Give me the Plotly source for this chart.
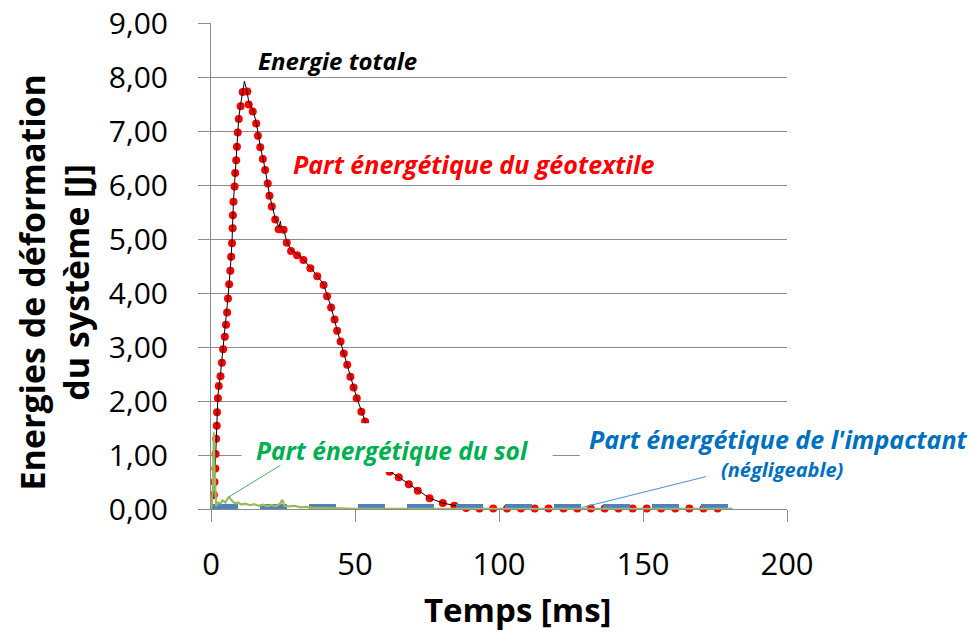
import plotly.graph_objects as go

# ---- data ----
geo_t = [1.0, 1.2, 1.5, 1.6, 1.8, 2.0, 2.1, 2.4, 2.7, 3.3, 3.8, 4.2, 4.8, 5.2, 5.6, 5.9, 6.3, 6.7,
         7.0, 7.3, 7.5, 7.6, 7.8, 8.2, 8.4, 8.75, 9.0, 9.3, 9.65, 10.3, 11.0, 12.6, 13.1, 14.5, 15.7,
         16.3, 17.1, 18.0, 18.8, 19.7, 20.3, 21.1, 22.3, 23.5, 25.2, 26.3, 27.8, 29.9, 32.1, 34.5,
         36.9, 39.1, 40.3, 41.7, 42.9, 43.8, 45.0, 46.1, 47.3, 48.4, 49.5, 50.6, 52.2, 53.5, 55.0,
         56.5, 58.0, 59.5, 61.0, 62.0, 65.2, 68.7, 71.8, 75.9, 80.5, 84.5, 88.6, 93.2, 98.0, 102.8,
         107.6, 112.4, 117.2, 122.4, 127.2, 131.9, 136.7, 141.5, 146.4, 151.3, 156.3, 161.2, 166.1,
         171.0, 175.9]
geo_e = [0.26, 0.5, 0.75, 1.02, 1.3, 1.54, 1.79, 2.05, 2.28, 2.46, 2.71, 2.96, 3.19, 3.41, 3.64,
         3.9, 4.16, 4.41, 4.67, 4.92, 5.2, 5.44, 5.69, 5.97, 6.22, 6.46, 6.71, 6.97, 7.22, 7.46, 7.72,
         7.73, 7.49, 7.36, 7.14, 6.91, 6.7, 6.48, 6.28, 6.03, 5.8, 5.6, 5.36, 5.18, 5.17, 4.93, 4.78,
         4.70, 4.61, 4.46, 4.31, 4.15, 3.94, 3.73, 3.51, 3.30, 3.10, 2.88, 2.67, 2.45, 2.25, 2.05,
         1.80, 1.62, 1.42, 1.22, 1.05, 0.92, 0.78, 0.69, 0.59, 0.46, 0.34, 0.20, 0.11, 0.06, 0.02,
         0.01, 0.01, 0.01, 0.01, 0.01, 0.01, 0.01, 0.01, 0.01, 0.01, 0.01, 0.01, 0.01, 0.01, 0.01,
         0.01, 0.01, 0.01]

tot_t = [0, 1.0, 1.5, 2.0, 2.4, 3.3, 4.2, 5.2, 5.9, 6.7, 7.3, 7.8, 8.4, 9.0, 9.65, 10.3, 11.0, 11.6,
         12.3, 13.1, 14.5, 15.7, 17.1, 18.8, 20.3, 22.3, 23.6, 24.1, 24.4, 25.5, 26.3, 27.8, 29.9,
         32.1, 34.5, 36.9, 39.1, 40.3, 41.7, 43.8, 46.1, 48.4, 50.6, 53.5, 56.5, 59.5, 62.0, 65.2,
         68.7, 71.8, 75.9, 80.5, 84.5, 88.6, 93.2, 100, 120, 150, 181]
tot_e = [0, 0.3, 0.8, 1.6, 2.1, 2.5, 3.0, 3.45, 3.92, 4.43, 4.95, 5.7, 6.25, 6.73, 7.25, 7.5, 7.78,
         7.92, 7.78, 7.55, 7.4, 7.16, 6.72, 6.3, 5.82, 5.38, 5.22, 5.33, 5.2, 5.12, 4.95, 4.8, 4.72,
         4.62, 4.47, 4.32, 4.16, 3.95, 3.74, 3.31, 2.89, 2.46, 2.06, 1.63, 1.23, 0.92, 0.7, 0.59,
         0.46, 0.34, 0.2, 0.11, 0.06, 0.02, 0.01, 0.01, 0.01, 0.01, 0.01]

imp_t = [0, 30, 60, 90, 120, 150, 181]
imp_e = [0.045, 0.045, 0.045, 0.045, 0.045, 0.045, 0.045]

sol_t = [0, 0.6, 1.0, 1.3, 1.8, 2.5, 3.2, 4.0, 5.0, 5.6, 6.3, 7.0, 7.5, 8.5, 9.5, 10.5, 12, 13.5,
         15, 16.5, 18, 19.5, 21, 22.5, 24, 24.8, 25.5, 27, 29, 31, 33, 35, 38, 41, 45, 50, 60, 80,
         100, 130, 160, 181]
sol_e = [0, 0.3, 1.42, 0.6, 0.05, 0.12, 0.1, 0.16, 0.12, 0.18, 0.22, 0.16, 0.14, 0.1, 0.12, 0.08,
         0.1, 0.07, 0.09, 0.06, 0.08, 0.05, 0.07, 0.05, 0.1, 0.17, 0.06, 0.05, 0.06, 0.03, 0.04,
         0.02, 0.02, 0.01, 0.01, 0.005, 0.005, 0.005, 0.005, 0.005, 0.005, 0.005]

x_ticks = [0, 50, 100, 150, 200]
y_ticks = [0, 1, 2, 3, 4, 5, 6, 7, 8, 9]

FONT = "Open Sans"
GRID = "#8c8c8c"

fig = go.Figure()
fig.add_trace(go.Scatter(x=geo_t, y=geo_e, mode="markers", cliponaxis=False,
                         marker=dict(color="#ff0000", size=8), name="géotextile"))
fig.add_trace(go.Scatter(x=tot_t, y=tot_e, mode="lines",
                         line=dict(color="#000000", width=1), name="totale"))
fig.add_trace(go.Scatter(x=imp_t, y=imp_e, mode="lines",
                         line=dict(color="#4F81BD", width=5, dash="27px,22px"), name="impactant"))
fig.add_trace(go.Scatter(x=sol_t, y=sol_e, mode="lines",
                         line=dict(color="#9BBB59", width=2.2), name="sol"))

shapes = [
    # white label boxes
    dict(type="rect", xref="x", yref="y", x0=10.6, x1=118.6, y0=0.685, y1=1.59,
         fillcolor="white", line=dict(width=0), layer="above"),
    dict(type="rect", xref="x", yref="y", x0=128, x1=200, y0=0.63, y1=1.6,
         fillcolor="white", line=dict(width=0), layer="above"),
    # connectors
    dict(type="line", xref="x", yref="y", x0=5.8, y0=0.21, x1=24.1, y1=0.81,
         line=dict(color="#4BAE66", width=1), layer="above"),
    dict(type="line", xref="x", yref="y", x0=129, y0=0.03, x1=171.9, y1=0.6,
         line=dict(color="#4A90D9", width=1), layer="above"),
]

annotations = [
    dict(text="<b><i>Energie totale</i></b>", x=43.9, y=8.31, xref="x", yref="y",
         showarrow=False, xanchor="center", font=dict(family=FONT, size=24, color="black")),
    dict(text="<b><i>Part énergétique du géotextile</i></b>", x=91.3, y=6.39, xref="x", yref="y",
         showarrow=False, xanchor="center", font=dict(family=FONT, size=25, color="#ff0000")),
    dict(text="<b><i>Part énergétique du sol</i></b>", x=62.7, y=1.09, xref="x", yref="y",
         showarrow=False, xanchor="center", font=dict(family=FONT, size=24.5, color="#00B050")),
    dict(text="<b><i>Part énergétique de l'impactant</i></b>", x=(778.5 - 211.5) / 576,
         y=(509 - 439) / 486, xref="paper", yref="paper", showarrow=False, xanchor="center",
         yanchor="middle", font=dict(family=FONT, size=25, color="#0070C0")),
    dict(text="<b><i>(négligeable)</i></b>", x=(783 - 211.5) / 576, y=(509 - 469) / 486,
         xref="paper", yref="paper", showarrow=False, xanchor="center", yanchor="middle",
         font=dict(family=FONT, size=20, color="#0070C0")),
    dict(text="<b>Energies de déformation<br>du système [J]</b>", textangle=-90,
         x=(54 - 211.5) / 576, y=(509 - 283) / 486, xref="paper", yref="paper",
         showarrow=False, xanchor="center", yanchor="middle",
         font=dict(family=FONT, size=34, color="black")),
    dict(text="<b>Temps [ms]</b>", x=(518 - 211.5) / 576, y=(509 - 609) / 486,
         xref="paper", yref="paper", showarrow=False, xanchor="center", yanchor="middle",
         font=dict(family=FONT, size=33, color="black")),
]

fig.update_layout(
    width=973, height=635,
    margin=dict(l=211, r=186, t=23, b=126, autoexpand=False),
    paper_bgcolor="white", plot_bgcolor="white",
    showlegend=False,
    separators=", ",
    shapes=shapes, annotations=annotations,
    font=dict(family=FONT, color="black"),
)
fig.update_xaxes(range=[0, 200], tickvals=x_ticks, ticks="outside", ticklen=12, tickcolor=GRID,
                 showline=True, linecolor=GRID, linewidth=1, showgrid=False, zeroline=False,
                 automargin=False,
                 tickfont=dict(family=FONT, size=31, color="black"), ticklabelstandoff=16)
fig.update_yaxes(range=[0, 9], tickvals=y_ticks, tickformat=".2f", ticks="outside", ticklen=12,
                 tickcolor=GRID, showline=True, linecolor=GRID, linewidth=1, showgrid=True,
                 gridcolor=GRID, gridwidth=1, zeroline=False, automargin=False,
                 tickfont=dict(family=FONT, size=30, color="black"), ticklabelstandoff=24)

fig.write_html("out.html", config={"displayModeBar": False},
               post_script="document.body.style.margin='0';document.body.style.overflow='hidden';")
